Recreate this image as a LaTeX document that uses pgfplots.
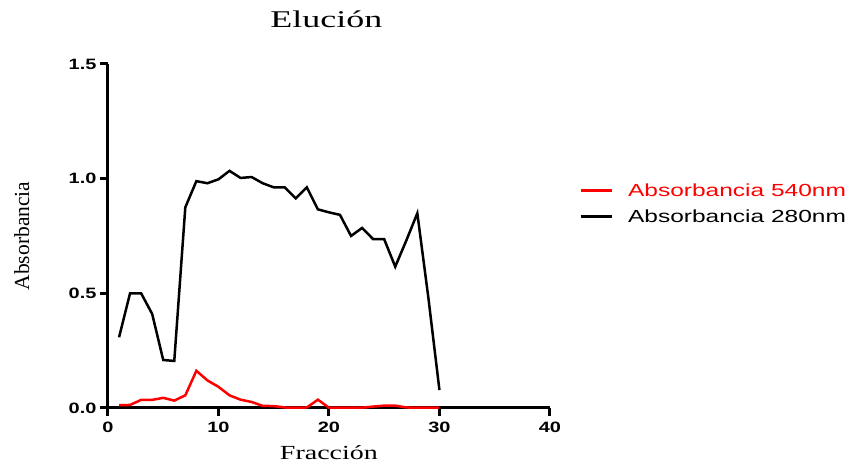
\documentclass[border=0pt]{standalone}
\usepackage{fontspec}
\usepackage{pgfplots}
\pgfplotsset{compat=1.18}
\setmainfont{Liberation Serif}
\newfontfamily\serifwide[FakeStretch=1.4]{Liberation Serif}
\newfontfamily\titlewide[FakeStretch=1.5]{Liberation Serif}
\newfontfamily\sanswide[FakeStretch=1.4]{Liberation Sans}
\newfontfamily\sansbold[FakeStretch=1.33]{Liberation Sans Bold}
\begin{document}
\begin{tikzpicture}
\begin{axis}[
  scale only axis,
  width=442pt, height=344pt,
  xmin=0, xmax=40, ymin=0, ymax=1.5,
  axis x line*=bottom, axis y line*=left,
  axis line style={line width=3pt,-},
  xtick={0,10,20,30,40},
  ytick={0,0.5,1.0,1.5},
  tick align=outside,
  major tick length=8pt,
  every tick/.style={line width=3pt,black},
  minor tick num=0,
  /pgf/number format/assume math mode=true,
  yticklabel style={/pgf/number format/fixed,/pgf/number format/fixed zerofill,/pgf/number format/precision=1},
  xticklabel style={yshift=-3pt},
  ticklabel style={font=\sansbold\fontsize{15}{15}\selectfont},
  title={Elución},
  title style={font=\titlewide\fontsize{24}{24}\selectfont, at={(axis description cs:0.494,1.113)}, anchor=center},
  xlabel={Fracción},
  xlabel style={font=\serifwide\fontsize{20}{20}\selectfont, at={(axis description cs:0.5,-0.13)}, anchor=center},
  ylabel={Absorbancia},
  ylabel style={font=\fontsize{21.5}{21.5}\selectfont, at={(axis description cs:-0.195,0.5)}, anchor=center},
  legend style={at={(axis description cs:1.06,0.594)}, anchor=west, draw=none, fill=none,
    font=\sanswide\fontsize{17.5}{17.5}\selectfont, row sep=8pt,
    /tikz/every odd column/.append style={column sep=13pt}},
  legend cell align=left,
  legend image code/.code={\draw[#1,line width=2.5pt] (0pt,0pt) -- (31pt,0pt);},
  clip=false,
]
\addplot[red, line width=2.5pt] coordinates {
(1,0.012) (2,0.013) (3,0.035) (4,0.035) (5,0.044) (6,0.032) (7,0.055) (8,0.162)
(9,0.12) (10,0.092) (11,0.055) (12,0.036) (13,0.026) (14,0.009) (15,0.008)
(16,0.002) (17,0.001) (18,0.002) (19,0.036) (20,0.001) (21,0.001) (22,0.001)
(23,0.001) (24,0.006) (25,0.01) (26,0.01) (27,0.002) (28,0.001) (29,0.001) (30,0.001)
};
\addlegendentry{\textcolor{red}{Absorbancia 540nm}}
\addplot[black, line width=2.5pt] coordinates {
(1,0.308) (2,0.50) (3,0.50) (4,0.41) (5,0.209) (6,0.205) (7,0.875) (8,0.989)
(9,0.980) (10,0.997) (11,1.034) (12,1.003) (13,1.007) (14,0.98) (15,0.962)
(16,0.962) (17,0.914) (18,0.962) (19,0.866) (20,0.853) (21,0.842) (22,0.75)
(23,0.785) (24,0.736) (25,0.736) (26,0.616) (27,0.73) (28,0.849) (29,0.48) (30,0.078)
};
\addlegendentry{Absorbancia 280nm}
\end{axis}
\path (current axis.south west) ++(-108pt,-55pt) rectangle ++(851pt,463pt);
\end{tikzpicture}
\end{document}
